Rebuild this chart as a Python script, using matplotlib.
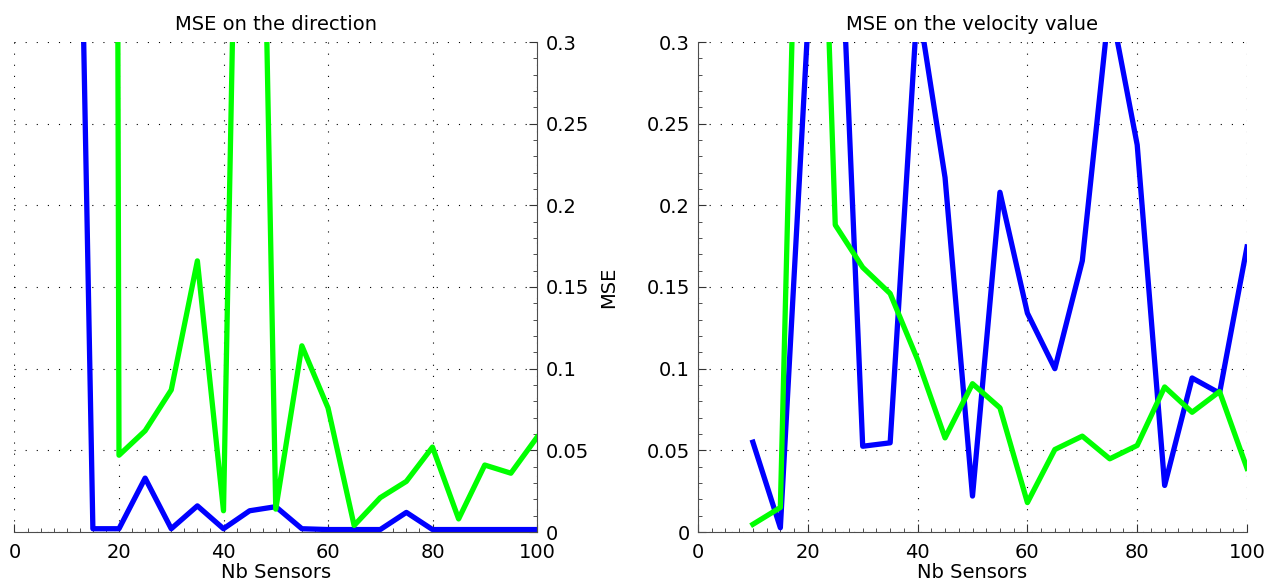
# MSE vs number of sensors (direction / velocity)
import matplotlib
matplotlib.use('Agg')
import matplotlib.pyplot as plt
from matplotlib.ticker import MultipleLocator

plt.rcParams['font.family'] = ['DejaVu Sans']

# data
nb_sensors = [10, 15, 20, 25, 30, 35, 40, 45, 50, 55, 60, 65, 70, 75, 80, 85, 90, 95, 100]

dir_blue = [0.85, 0.002, 0.002, 0.033, 0.002, 0.016, 0.002, 0.013, 0.0155, 0.002,
            0.0015, 0.0015, 0.0015, 0.012, 0.0015, 0.0015, 0.0015, 0.0015, 0.0015]
dir_green = [4.0, 6.0, 0.047, 0.062, 0.087, 0.166, 0.013, 0.855, 0.014, 0.114,
             0.076, 0.004, 0.021, 0.031, 0.052, 0.008, 0.041, 0.036, 0.058]

vel_blue = [0.055, 0.0026, 0.31, 0.452, 0.0525, 0.0546, 0.325, 0.217, 0.022, 0.208,
            0.134, 0.100, 0.166, 0.325, 0.237, 0.0285, 0.0943, 0.085, 0.1745]
vel_green = [0.0047, 0.015, 0.69, 0.188, 0.162, 0.146, 0.1055, 0.0576, 0.0908, 0.076,
             0.018, 0.0505, 0.0587, 0.0448, 0.053, 0.0888, 0.0733, 0.086, 0.039]

y_ticks = [0, 0.05, 0.1, 0.15, 0.2, 0.25, 0.3]
y_ticklabels = ['0', '0.05', '0.1', '0.15', '0.2', '0.25', '0.3']
x_ticks = [0, 20, 40, 60, 80, 100]

FS = 14
LW = 3.8

fig = plt.figure(figsize=(12.69, 5.81), dpi=100)
ax1 = fig.add_axes([14.5 / 1269, 49 / 581, 522.5 / 1269, 490 / 581])
ax2 = fig.add_axes([698 / 1269, 49 / 581, 549 / 1269, 490 / 581])


def style_axis(ax, side):
    ax.set_xlim(0, 100)
    ax.set_ylim(0, 0.3)
    ax.set_xticks(x_ticks)
    ax.set_yticks(y_ticks)
    ax.set_yticklabels(y_ticklabels)
    ax.xaxis.set_minor_locator(MultipleLocator(2.5))
    ax.yaxis.set_minor_locator(MultipleLocator(0.01))
    ax.grid(True, which='major', linestyle=(0, (1, 9)), color='k', linewidth=0.8)
    for s in ['top', 'left', 'right']:
        ax.spines[s].set_visible(False)
    ax.spines['bottom'].set_color('0.3')
    ax.spines[side].set_visible(True)
    ax.spines[side].set_color('0.3')
    if side == 'right':
        ax.yaxis.tick_right()
        ax.yaxis.set_label_position('right')
    else:
        ax.yaxis.tick_left()
    ax.xaxis.tick_bottom()
    ax.tick_params(which='both', direction='in', labelsize=FS, color='0.2')
    ax.tick_params(which='major', length=6)
    ax.tick_params(which='minor', length=3)
    ax.tick_params(axis='x', pad=8)
    ax.tick_params(axis='y', pad=6)
    ax.set_xlabel('Nb Sensors', fontsize=FS, labelpad=1)


# left: direction
ax1.plot(nb_sensors, dir_blue, color='#0000ff', linewidth=LW)
ax1.plot(nb_sensors, dir_green, color='#00ff00', linewidth=LW)
style_axis(ax1, 'right')
ax1.set_title('MSE on the direction', fontsize=FS, pad=9)

# right: velocity
ax2.plot(nb_sensors, vel_blue, color='#0000ff', linewidth=LW)
ax2.plot(nb_sensors, vel_green, color='#00ff00', linewidth=LW)
style_axis(ax2, 'left')
ax2.set_title('MSE on the velocity value', fontsize=FS, pad=9)
ax2.set_ylabel('MSE', fontsize=FS)
ax2.yaxis.set_label_coords(-0.146, 0.5)

fig.savefig('out.png', dpi=100)
